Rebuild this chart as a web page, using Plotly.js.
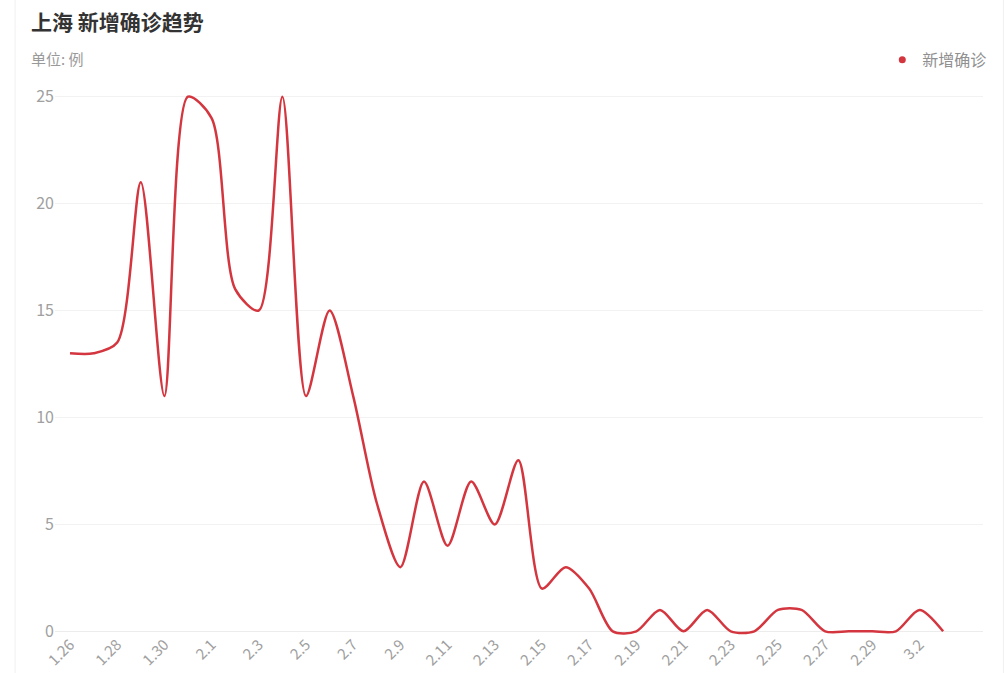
<!DOCTYPE html>
<html>
<head>
<meta charset="utf-8">
<script src="https://cdn.plot.ly/plotly-3.0.1.min.js"></script>
<style>
  html, body { margin: 0; padding: 0; background: #fff; }
  #chart { width: 1006px; height: 673px; }
</style>
</head>
<body>
<div id="chart"></div>
<script>
// Dates (2020) and daily new confirmed cases in Shanghai
const dates = ["1.26","1.27","1.28","1.29","1.30","1.31","2.1","2.2","2.3","2.4",
               "2.5","2.6","2.7","2.8","2.9","2.10","2.11","2.12","2.13","2.14",
               "2.15","2.16","2.17","2.18","2.19","2.20","2.21","2.22","2.23","2.24",
               "2.25","2.26","2.27","2.28","2.29","3.1","3.2","3.3"];
const newCases = [13, 13, 13.5, 21, 11, 25, 24, 16, 15, 25,
                  11, 15, 11, 6, 3, 7, 4, 7, 5, 8,
                  2, 3, 2, 0, 0, 1, 0, 1, 0, 0,
                  1, 1, 0, 0, 0, 0, 1, 0];
const tickDates = ["1.26","1.28","1.30","2.1","2.3","2.5","2.7","2.9","2.11","2.13",
                   "2.15","2.17","2.19","2.21","2.23","2.25","2.27","2.29","3.2"];
const yTicks = [0, 5, 10, 15, 20, 25];

const seriesName = "新增确诊";
const chartTitle = "上海 新增确诊趋势";
const unitText = "单位: 例";
const lineColor = "#d4363f";
const font = "'Noto Sans CJK SC', 'Noto Sans', sans-serif";

const traces = [
  {
    x: dates, y: newCases, type: "scatter", mode: "lines",
    line: { color: lineColor, width: 2.5, shape: "spline", smoothing: 0.8 },
    name: seriesName, showlegend: false, legendgroup: "a", hoverinfo: "x+y"
  },
  {
    x: [null], y: [null], type: "scatter", mode: "markers",
    marker: { color: lineColor, size: 7 },
    name: seriesName, showlegend: true, legendgroup: "a"
  }
];

const layout = {
  width: 1006, height: 673,
  paper_bgcolor: "#ffffff", plot_bgcolor: "#ffffff",
  margin: { l: 55, r: 23, t: 86, b: 31 },
  font: { family: font, color: "#999999" },
  xaxis: {
    type: "category",
    categoryorder: "array", categoryarray: dates,
    range: [-0.636, 38.69],
    tickmode: "array", tickvals: tickDates, ticktext: tickDates,
    tickangle: -45,
    ticklabelstandoff: -10,
    tickfont: { size: 15, color: "#a0a0a0", family: font },
    showgrid: false, zeroline: false, showline: false, ticks: "",
    automargin: false, fixedrange: true
  },
  yaxis: {
    range: [-0.5, 25.5],
    tickmode: "array", tickvals: yTicks,
    tickfont: { size: 16, color: "#a0a0a0", family: font },
    showgrid: true, gridcolor: "#f2f2f2", gridwidth: 1,
    zeroline: true, zerolinecolor: "#ececec", zerolinewidth: 1,
    showline: false, ticks: "", automargin: false, fixedrange: true
  },
  legend: {
    x: 1.01, xref: "paper", xanchor: "right",
    y: 1.047, yanchor: "middle",
    orientation: "h",
    font: { size: 16, color: "#909090", family: font },
    itemwidth: 30, bgcolor: "rgba(0,0,0,0)"
  },
  annotations: [
    {
      text: "<b>" + chartTitle + "</b>", xref: "paper", yref: "paper",
      x: -0.028, y: 1.117, xanchor: "left", yanchor: "middle",
      showarrow: false, font: { size: 21, color: "#333333", family: font }
    },
    {
      text: unitText, xref: "paper", yref: "paper",
      x: -0.028, y: 1.050, xanchor: "left", yanchor: "middle",
      showarrow: false, font: { size: 15, color: "#999999", family: font }
    }
  ],
  shapes: [
    { type: "line", xref: "paper", yref: "paper", x0: -0.043, x1: -0.043, y0: -0.06, y1: 1.2,
      line: { color: "#f0f0f0", width: 1 } },
    { type: "line", xref: "paper", yref: "paper", x0: 1.022, x1: 1.022, y0: -0.06, y1: 1.2,
      line: { color: "#f0f0f0", width: 1 } }
  ]
};

Plotly.newPlot("chart", traces, layout, { displayModeBar: false, staticPlot: true });
</script>
</body>
</html>
